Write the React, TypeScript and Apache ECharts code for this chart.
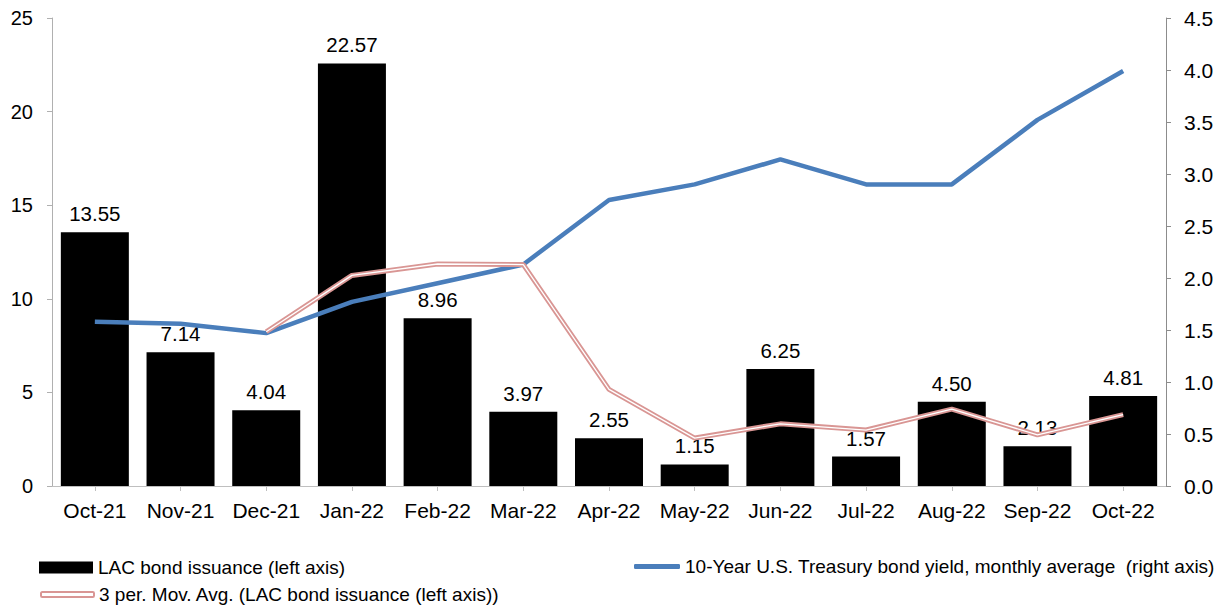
import React, { useEffect, useRef } from "react";
import * as echarts from "echarts";

const categories = ["Oct-21", "Nov-21", "Dec-21", "Jan-22", "Feb-22", "Mar-22", "Apr-22", "May-22", "Jun-22", "Jul-22", "Aug-22", "Sep-22", "Oct-22"];
const issuance = [13.55, 7.14, 4.04, 22.57, 8.96, 3.97, 2.55, 1.15, 6.25, 1.57, 4.5, 2.13, 4.81];
const treasuryYield = [1.58, 1.56, 1.47, 1.77, 1.95, 2.13, 2.75, 2.9, 3.14, 2.9, 2.9, 3.52, 3.99];
const movingAvg: (number | null)[] = [null, null, 8.24, 11.25, 11.86, 11.83, 5.16, 2.56, 3.32, 2.99, 4.11, 2.73, 3.81];
const leftTicks = { min: 0, max: 25, interval: 5 };
const rightTicks = { min: 0, max: 4.5, interval: 0.5 };

const NAME_BAR = "LAC bond issuance (left axis)";
const NAME_YIELD = "10-Year U.S. Treasury bond yield, monthly average  (right axis)";
const NAME_MA = "3 per. Mov. Avg. (LAC bond issuance (left axis))";

const FONT = "'Liberation Sans', Arial, sans-serif";
const PINK = "#d99694";
const BLUE = "#4a7ebb";

export default function App() {
  const ref = useRef<HTMLDivElement>(null);
  useEffect(() => {
    if (!ref.current) return;
    const chart = echarts.init(ref.current, undefined, { renderer: "svg" });
    chart.setOption({
      animation: false,
      textStyle: { fontFamily: FONT },
      grid: { left: 52, right: 65, top: 18, bottom: 123, containLabel: false },
      legend: [
        {
          data: [{ name: NAME_BAR, icon: "rect" }],
          left: 39, top: 558, padding: 0, itemWidth: 54, itemHeight: 12,
          textStyle: { fontSize: 19, color: "#000", fontFamily: FONT },
          selectedMode: false,
        },
        {
          data: [{ name: NAME_YIELD, icon: "roundRect" }],
          left: 634, top: 557, padding: 0, itemWidth: 46, itemHeight: 5,
          textStyle: { fontSize: 19, color: "#000", fontFamily: FONT },
          selectedMode: false,
        },
        {
          data: [{ name: NAME_MA, icon: "roundRect", itemStyle: { color: "#fff", borderColor: PINK, borderWidth: 2 } }],
          left: 40, top: 585, padding: 0, itemWidth: 53, itemHeight: 5,
          textStyle: { fontSize: 19, color: "#000", fontFamily: FONT },
          selectedMode: false,
        },
      ],
      xAxis: {
        type: "category",
        data: categories,
        axisLine: { lineStyle: { color: "#bfbfbf", width: 1 } },
        axisTick: { show: true, alignWithLabel: true, interval: 0, length: 5, lineStyle: { color: "#bfbfbf" } },
        axisLabel: { interval: 0, hideOverlap: false, fontSize: 21, color: "#000", margin: 14, fontFamily: FONT },
      },
      yAxis: [
        {
          type: "value",
          ...leftTicks,
          position: "left",
          axisLine: { show: true, lineStyle: { color: "#b0b0b0" } },
          axisTick: { show: true, length: 5, lineStyle: { color: "#b0b0b0" } },
          splitLine: { show: false },
          axisLabel: { fontSize: 20, color: "#000", margin: 19, fontFamily: FONT },
        },
        {
          type: "value",
          ...rightTicks,
          position: "right",
          axisLine: { show: true, lineStyle: { color: "#8c8c8c" } },
          axisTick: { show: true, length: 5, lineStyle: { color: "#8c8c8c" } },
          splitLine: { show: false },
          axisLabel: { fontSize: 21, color: "#000", margin: 18, fontFamily: FONT, formatter: (v: number) => v.toFixed(1) },
        },
      ],
      series: [
        {
          name: NAME_BAR,
          type: "bar",
          data: issuance,
          yAxisIndex: 0,
          barWidth: 68,
          itemStyle: { color: "#000" },
          label: {
            show: true, position: "top", distance: 8, fontSize: 20.5, color: "#000", fontFamily: FONT,
            formatter: (p: any) => Number(p.value).toFixed(2),
          },
          z: 2,
        },
        {
          name: NAME_YIELD,
          type: "line",
          data: treasuryYield,
          yAxisIndex: 1,
          symbol: "none",
          lineStyle: { color: BLUE, width: 4.5 },
          itemStyle: { color: BLUE },
          z: 3,
        },
        {
          name: NAME_MA,
          type: "line",
          data: movingAvg,
          yAxisIndex: 0,
          symbol: "none",
          lineStyle: { color: PINK, width: 5 },
          itemStyle: { color: PINK },
          z: 4,
        },
        {
          name: "ma-inner",
          type: "line",
          data: movingAvg,
          yAxisIndex: 0,
          symbol: "none",
          lineStyle: { color: "#fff", width: 1.3 },
          itemStyle: { color: "#fff" },
          z: 5,
        },
      ],
    });
    return () => chart.dispose();
  }, []);
  return <div ref={ref} style={{ width: 1231, height: 609, position: "absolute", left: 0, top: 0 }} />;
}
